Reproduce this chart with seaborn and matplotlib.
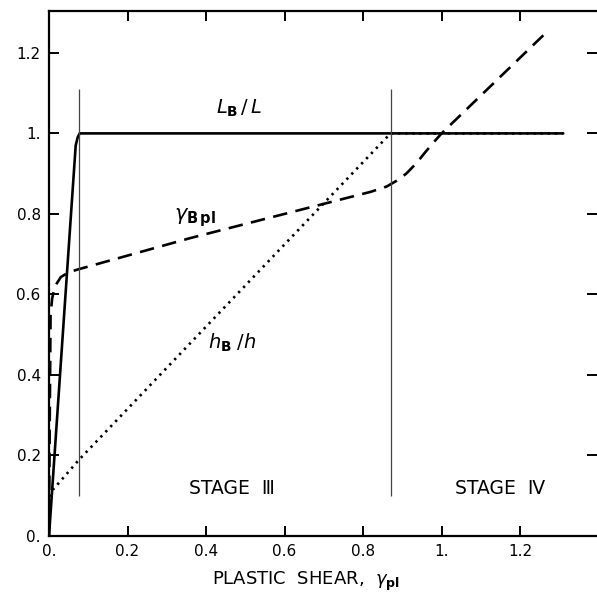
import matplotlib
matplotlib.use("Agg")
import matplotlib.pyplot as plt
import seaborn as sns
import numpy as np

# ---- data ----
lbl_x = [0.0, 0.068, 0.073, 0.078, 1.31]
lbl_y = [0.0, 0.97, 0.99, 1.0, 1.0]

gam_x = [0.0, 0.002, 0.004, 0.008, 0.015, 0.03, 0.05, 0.077, 0.36, 0.72, 0.82,
         0.86, 0.885, 0.91, 0.935, 0.96, 0.98, 1.0, 1.266]
gam_y = [0.0, 0.30, 0.55, 0.59, 0.62, 0.643, 0.655, 0.663, 0.74, 0.83, 0.855,
         0.868, 0.882, 0.90, 0.925, 0.955, 0.978, 1.0, 1.25]

hbh_x = [0.0, 0.01, 0.077, 0.87, 1.31]
hbh_y = [0.08, 0.115, 0.19, 1.0, 1.0]

stage_bounds = [0.077, 0.871]
stage_line_span = [0.10, 1.11]

x_ticks = [0.0, 0.2, 0.4, 0.6, 0.8, 1.0, 1.2]
x_ticklabels = ["0.", "0.2", "0.4", "0.6", "0.8", "1.", "1.2"]
y_ticks = [0.0, 0.2, 0.4, 0.6, 0.8, 1.0, 1.2]
y_ticklabels = ["0.", "0.2", "0.4", "0.6", "0.8", "1.", "1.2"]

sns.set_style("ticks")
plt.rcParams['font.family'] = ['DejaVu Sans']
plt.rcParams['mathtext.fontset'] = 'dejavusans'
plt.rcParams['text.color'] = 'black'
plt.rcParams['axes.labelcolor'] = 'black'
plt.rcParams['xtick.color'] = 'black'
plt.rcParams['ytick.color'] = 'black'

fig = plt.figure(figsize=(5.97, 6.02), dpi=100)
ax = fig.add_axes([49/597, 66/602, 1 - 49/597, (536 - 11)/602])

sns.lineplot(x=lbl_x, y=lbl_y, sort=False, color="black", lw=1.9, ax=ax,
             estimator=None)
sns.lineplot(x=gam_x, y=gam_y, sort=False, color="black", lw=1.9, ax=ax,
             estimator=None, linestyle=(0, (5.5, 3.2)))
sns.lineplot(x=hbh_x, y=hbh_y, sort=False, color="black", lw=1.9, ax=ax,
             estimator=None, linestyle=(0, (0.9, 1.8)))

ax.vlines(stage_bounds, stage_line_span[0], stage_line_span[1],
          color="#444444", lw=0.9)

ax.set_xlim(0, 1.396)
ax.set_ylim(0, 1.304)

ax.set_xticks(x_ticks)
ax.set_xticklabels(x_ticklabels)
ax.set_yticks(y_ticks)
ax.set_yticklabels(y_ticklabels)
ax.tick_params(direction="in", length=7, width=1.4, top=True, right=True,
               labelsize=11, pad=6, colors="black")
for s in ["left", "bottom", "top"]:
    ax.spines[s].set_linewidth(1.6)
    ax.spines[s].set_color("black")
ax.spines["right"].set_visible(False)

ax.set_xlabel(r"PLASTIC  SHEAR,  $\gamma_{\mathbf{pl}}$", fontsize=13, labelpad=3,
              color="black")
ax.xaxis.set_label_coords((306 - 49) / (597 - 49), -0.065)

ax.text(0.484, 1.063, r"$\mathit{L}_{\mathbf{B}}\,/\,\mathit{L}$", fontsize=14,
        ha="center", va="center", color="black")
ax.text(0.318, 0.79, r"$\gamma_{\mathbf{B\,pl}}$", fontsize=15,
        ha="left", va="center", color="black")
ax.text(0.405, 0.48, r"$h_{\mathbf{B}}\;/h$", fontsize=14,
        ha="left", va="center", color="black")
ax.text(0.465, 0.119, "STAGE  Ⅲ", fontsize=13.5, ha="center", va="center",
        color="black")
ax.text(1.149, 0.119, "STAGE  Ⅳ", fontsize=13.5, ha="center", va="center",
        color="black")

fig.savefig("out.png", dpi=100)
